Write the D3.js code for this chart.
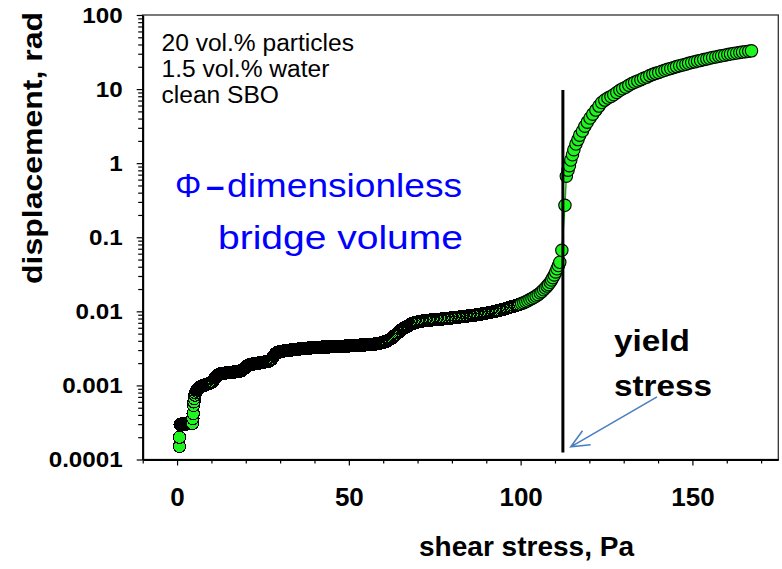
<!DOCTYPE html>
<html>
<head>
<meta charset="utf-8">
<script src="https://cdn.jsdelivr.net/npm/d3@7"></script>
<style>
  html, body { margin: 0; padding: 0; background: #fff; }
  svg { display: block; }
  text { font-family: Arial, "Liberation Sans", Helvetica, sans-serif; }
</style>
</head>
<body>
<svg id="chart" width="782" height="569"></svg>
<script>
// Creep test: shear stress ramp [Pa] vs. angular displacement [rad]
const initialCreep = [
  [0.7,1.50e-4],[0.7,2.00e-4],[0.9,2.97e-4],[1.1,3.00e-4],[1.3,3.00e-4],[1.5,3.00e-4],
  [1.7,3.00e-4],[1.9,3.00e-4],[2.1,3.00e-4],[2.3,3.00e-4],[2.5,3.00e-4],[2.7,3.02e-4],
  [2.9,3.03e-4],[3.1,3.05e-4],[3.3,3.05e-4],[3.5,3.07e-4],[3.7,3.08e-4],[3.9,3.10e-4],
  [4.1,3.10e-4],[4.3,3.10e-4],[4.5,3.06e-4],[4.6,3.58e-4],[4.7,4.18e-4],[4.8,5.37e-4],
  [4.9,6.00e-4],[5.0,6.68e-4],[5.2,7.40e-4],[5.4,7.95e-4],[5.6,8.40e-4],[5.8,8.70e-4],
  [6.0,8.95e-4],[6.2,9.15e-4],[6.4,9.30e-4],[6.6,9.45e-4],[6.8,9.60e-4],[7.0,9.72e-4],
  [7.2,9.82e-4],[7.4,9.90e-4],[7.6,9.97e-4],[7.8,1.00e-3],[8.0,1.01e-3],[8.2,1.02e-3],
  [8.4,1.03e-3],[8.6,1.035e-3],[8.8,1.04e-3],[9.0,1.05e-3],[9.2,1.06e-3],[9.4,1.07e-3],
  [9.6,1.08e-3],[9.8,1.09e-3],[10.0,1.10e-3]
];
const steppedCreep = [
  [10.2,1.11e-3],[10.4,1.14e-3],[10.6,1.18e-3],[10.8,1.22e-3],[11.0,1.26e-3],[11.2,1.29e-3],
  [11.4,1.32e-3],[11.6,1.35e-3],[11.8,1.37e-3],[12.0,1.39e-3],[12.2,1.41e-3],[12.4,1.42e-3],
  [12.6,1.43e-3],[12.8,1.44e-3],[13.0,1.45e-3],[13.2,1.45e-3],[13.4,1.45e-3],[13.6,1.46e-3],
  [13.8,1.46e-3],[14.0,1.47e-3],[14.2,1.47e-3],[14.4,1.48e-3],[14.6,1.48e-3],[14.8,1.48e-3],
  [15.0,1.49e-3],[15.2,1.49e-3],[15.4,1.49e-3],[15.6,1.50e-3],[15.8,1.50e-3],[16.0,1.50e-3],
  [16.2,1.51e-3],[16.4,1.51e-3],[16.6,1.52e-3],[16.8,1.52e-3],[17.0,1.52e-3],[17.2,1.53e-3],
  [17.4,1.53e-3],[17.6,1.54e-3],[17.8,1.54e-3],[18.0,1.55e-3],[18.2,1.55e-3],[18.4,1.56e-3],
  [18.6,1.58e-3],[18.8,1.59e-3],[19.0,1.61e-3],[19.2,1.64e-3],[19.4,1.67e-3],[19.6,1.70e-3],
  [19.8,1.74e-3],[20.0,1.78e-3],[20.2,1.81e-3],[20.4,1.84e-3],[20.6,1.86e-3],[20.8,1.88e-3],
  [21.0,1.90e-3],[21.2,1.91e-3],[21.4,1.92e-3],[21.6,1.93e-3],[21.8,1.94e-3],[22.0,1.94e-3],
  [22.2,1.95e-3],[22.4,1.96e-3],[22.6,1.96e-3],[22.8,1.97e-3],[23.0,1.98e-3],[23.2,1.99e-3],
  [23.4,1.99e-3],[23.6,2.00e-3],[23.8,2.01e-3],[24.0,2.01e-3],[24.2,2.02e-3],[24.4,2.03e-3],
  [24.6,2.04e-3],[24.8,2.04e-3],[25.0,2.05e-3],[25.2,2.06e-3],[25.4,2.07e-3],[25.6,2.08e-3],
  [25.8,2.08e-3],[26.0,2.09e-3],[26.2,2.10e-3],[26.4,2.11e-3],[26.6,2.13e-3],[26.8,2.14e-3],
  [27.0,2.17e-3],[27.2,2.20e-3],[27.4,2.24e-3],[27.6,2.29e-3],[27.8,2.35e-3],[28.0,2.43e-3],
  [28.2,2.51e-3],[28.4,2.59e-3],[28.6,2.66e-3],[28.8,2.72e-3],[29.0,2.76e-3],[29.2,2.78e-3],
  [29.4,2.80e-3],[29.6,2.82e-3],[29.8,2.84e-3],[30.0,2.86e-3]
];
const plateau = [
  [30.25,2.87e-3],[30.5,2.89e-3],[30.75,2.90e-3],[31.0,2.91e-3],[31.25,2.92e-3],[31.5,2.94e-3],
  [31.75,2.95e-3],[32.0,2.96e-3],[32.25,2.97e-3],[32.5,2.98e-3],[32.75,2.99e-3],[33.0,3.00e-3],
  [33.25,3.01e-3],[33.5,3.02e-3],[33.75,3.03e-3],[34.0,3.04e-3],[34.25,3.05e-3],[34.5,3.06e-3],
  [34.75,3.06e-3],[35.0,3.07e-3],[35.25,3.09e-3],[35.5,3.10e-3],[35.75,3.11e-3],[36.0,3.12e-3],
  [36.25,3.13e-3],[36.5,3.14e-3],[36.75,3.14e-3],[37.0,3.15e-3],[37.25,3.16e-3],[37.5,3.16e-3],
  [37.75,3.17e-3],[38.0,3.18e-3],[38.25,3.19e-3],[38.5,3.20e-3],[38.75,3.20e-3],[39.0,3.21e-3],
  [39.25,3.22e-3],[39.5,3.22e-3],[39.75,3.23e-3],[40.0,3.24e-3],[40.25,3.24e-3],[40.5,3.25e-3],
  [40.75,3.25e-3],[41.0,3.26e-3],[41.25,3.27e-3],[41.5,3.27e-3],[41.75,3.27e-3],[42.0,3.28e-3],
  [42.25,3.28e-3],[42.5,3.29e-3],[42.75,3.29e-3],[43.0,3.30e-3],[43.25,3.30e-3],[43.5,3.30e-3],
  [43.75,3.31e-3],[44.0,3.31e-3],[44.25,3.31e-3],[44.5,3.32e-3],[44.75,3.32e-3],[45.0,3.33e-3],
  [45.25,3.33e-3],[45.5,3.33e-3],[45.75,3.34e-3],[46.0,3.34e-3],[46.25,3.34e-3],[46.5,3.35e-3],
  [46.75,3.35e-3],[47.0,3.35e-3],[47.25,3.36e-3],[47.5,3.36e-3],[47.75,3.36e-3],[48.0,3.37e-3],
  [48.25,3.37e-3],[48.5,3.38e-3],[48.75,3.38e-3],[49.0,3.39e-3],[49.25,3.40e-3],[49.5,3.40e-3],
  [49.75,3.41e-3],[50.0,3.41e-3],[50.25,3.42e-3],[50.5,3.43e-3],[50.75,3.43e-3],[51.0,3.44e-3],
  [51.25,3.45e-3],[51.5,3.45e-3],[51.75,3.46e-3],[52.0,3.47e-3],[52.25,3.47e-3],[52.5,3.48e-3],
  [52.75,3.48e-3],[53.0,3.49e-3],[53.25,3.50e-3],[53.5,3.50e-3],[53.75,3.51e-3],[54.0,3.52e-3],
  [54.25,3.52e-3],[54.5,3.53e-3],[54.75,3.53e-3],[55.0,3.54e-3],[55.25,3.55e-3],[55.5,3.55e-3],
  [55.75,3.56e-3],[56.0,3.57e-3],[56.25,3.57e-3],[56.5,3.58e-3],[56.75,3.58e-3],[57.0,3.59e-3],
  [57.25,3.60e-3],[57.5,3.62e-3],[57.75,3.63e-3],[58.0,3.64e-3],[58.25,3.66e-3],[58.5,3.67e-3],
  [58.75,3.69e-3],[59.0,3.71e-3],[59.25,3.73e-3],[59.5,3.75e-3],[59.75,3.78e-3],[60.0,3.81e-3]
];
const secondRise = [
  [60.3,3.85e-3],[60.6,3.90e-3],[60.9,3.95e-3],[61.2,4.01e-3],[61.5,4.08e-3],[61.8,4.15e-3],
  [62.1,4.22e-3],[62.4,4.32e-3],[62.7,4.42e-3],[63.0,4.54e-3],[63.3,4.68e-3],[63.6,4.82e-3],
  [63.9,4.96e-3],[64.2,5.11e-3],[64.5,5.25e-3],[64.8,5.39e-3],[65.1,5.54e-3],[65.4,5.67e-3],
  [65.7,5.80e-3],[66.0,5.92e-3],[66.3,6.03e-3],[66.6,6.14e-3],[66.9,6.25e-3],[67.2,6.36e-3],
  [67.5,6.48e-3],[67.8,6.59e-3],[68.1,6.70e-3],[68.4,6.80e-3],[68.7,6.89e-3],[69.0,6.97e-3],
  [69.3,7.05e-3],[69.6,7.13e-3],[69.9,7.19e-3],[70.2,7.24e-3]
];
const slowCreep = [
  [70.6,7.30e-3],[71.0,7.36e-3],[71.4,7.41e-3],[71.8,7.45e-3],[72.2,7.49e-3],[72.6,7.53e-3],
  [73.0,7.56e-3],[73.4,7.60e-3],[73.8,7.63e-3],[74.2,7.66e-3],[74.6,7.70e-3],[75.0,7.73e-3],
  [75.4,7.75e-3],[75.8,7.78e-3],[76.2,7.81e-3],[76.6,7.84e-3],[77.0,7.88e-3],[77.4,7.91e-3],
  [77.8,7.94e-3],[78.2,7.97e-3],[78.6,8.01e-3],[79.0,8.05e-3],[79.4,8.09e-3],[79.8,8.13e-3],
  [80.2,8.17e-3],[80.6,8.21e-3],[81.0,8.25e-3],[81.4,8.29e-3],[81.8,8.33e-3],[82.2,8.38e-3],
  [82.6,8.43e-3],[83.0,8.48e-3],[83.4,8.52e-3],[83.8,8.57e-3],[84.2,8.62e-3],[84.6,8.66e-3],
  [85.0,8.70e-3],[85.4,8.74e-3],[85.8,8.78e-3],[86.2,8.84e-3],[86.6,8.89e-3],[87.0,8.94e-3],
  [87.4,9.00e-3],[87.8,9.05e-3],[88.2,9.12e-3],[88.6,9.19e-3],[89.0,9.26e-3],[89.4,9.34e-3],
  [89.8,9.41e-3],[90.2,9.49e-3],[90.6,9.57e-3],[91.0,9.65e-3],[91.4,9.73e-3],[91.8,9.82e-3],
  [92.2,9.92e-3],[92.6,1.003e-2],[93.0,1.01e-2],[93.4,1.02e-2],[93.8,1.03e-2],[94.2,1.04e-2],
  [94.6,1.06e-2],[95.0,1.07e-2],[95.4,1.08e-2],[95.8,1.10e-2],[96.2,1.11e-2],[96.6,1.12e-2],
  [97.0,1.14e-2],[97.4,1.15e-2],[97.8,1.16e-2],[98.2,1.18e-2],[98.6,1.20e-2],[99.0,1.21e-2],
  [99.4,1.23e-2],[99.8,1.25e-2]
];
const yieldApproach = [
  [100.3,1.28e-2],[100.9,1.31e-2],[101.5,1.35e-2],[102.1,1.39e-2],[102.7,1.44e-2],[103.3,1.49e-2],
  [103.9,1.55e-2],[104.5,1.61e-2],[105.1,1.68e-2],[105.7,1.77e-2],[106.2,1.85e-2],[106.7,1.95e-2],
  [107.2,2.06e-2],[107.7,2.19e-2],[108.1,2.30e-2],[108.6,2.47e-2],[109.0,2.65e-2],[109.4,2.85e-2],
  [109.8,3.10e-2],[110.2,3.40e-2],[110.6,3.75e-2],[111.0,4.15e-2],[111.4,4.60e-2],[112.0,6.67e-2],
  [112.9,0.270]
];
const flow = [
  [113.3,0.667],[113.8,0.804],[114.2,0.925],[114.6,1.10],[115.1,1.30],[115.5,1.52],
  [116.1,1.81],[116.7,2.08],[117.2,2.39],[118.0,2.71],[118.7,3.16],[119.4,3.58],
  [120.2,4.06],[121.0,4.59],[121.9,5.20],[122.8,5.89],[123.6,6.57],[124.5,7.10],
  [125.4,7.56],[126.3,7.97],[127.1,8.40],[128.0,9.02],[128.9,9.63],[129.7,10.1],
  [130.6,10.6],[131.5,11.3],[132.4,11.9],[133.2,12.4],[134.1,12.9],[135.0,13.4],
  [135.8,14.0],[136.7,14.5],[137.6,15.2],[138.5,15.8],[139.3,16.3],[140.2,16.8],
  [141.1,17.4],[142.0,17.9],[142.8,18.5],[143.7,19.0],[144.6,19.5],[145.4,20.1],
  [146.3,20.7],[147.2,21.2],[148.1,21.7],[148.9,22.3],[149.8,22.8],[150.7,23.3],
  [151.5,23.9],[152.4,24.4],[153.3,25.0],[154.2,25.5],[155.0,26.1],[155.9,26.7],
  [156.8,27.2],[157.7,27.7],[158.5,28.2],[159.4,28.7],[160.3,29.3],[161.1,29.7],
  [162.0,30.2],[162.9,30.7],[163.8,31.1],[164.6,31.6],[165.5,32.0],[166.4,32.4],
  [167.2,32.8]
];

const xTickValues = [0, 50, 100, 150];
const xTickLabels = ["0", "50", "100", "150"];
const xMinorTicks = [-10, 10, 20, 30, 40, 60, 70, 80, 90, 110, 120, 130, 140, 160, 170];
const yTickValues = [1e-4, 1e-3, 1e-2, 1e-1, 1, 10, 100];
const yTickLabels = ["0.0001", "0.001", "0.01", "0.1", "1", "10", "100"];
const noteLines = ["20 vol.% particles", "1.5 vol.% water", "clean SBO"];
const phiLines = ["dimensionless", "bridge volume"];
const yieldLabel = ["yield", "stress"];
const yieldStressPa = 112.3;
const yieldLineSpan = [1.24e-4, 9.7];
const arrowFrom = [139.7, 7.0e-4];
const arrowTo = [114.6, 1.48e-4];

// densely sampled creep region vs. sparser branch around and after yield
const creepPoints = [].concat(initialCreep, steppedCreep, plateau, secondRise, slowCreep);
const yieldPoints = [].concat(yieldApproach, flow);
const points = creepPoints.concat(yieldPoints);

const W = 782, H = 569;
const margin = { top: 15, right: 3.7, bottom: 109.5, left: 142.7 };
const svg = d3.select("#chart");

const x = d3.scaleLinear().domain([-10, 175]).range([margin.left, W - margin.right]);
const y = d3.scaleLog().domain([1e-4, 100]).range([H - margin.bottom, margin.top]);

// widen a text element to a given length, or by a factor of its natural width
function stretchTo(sel, len) {
  sel.attr("textLength", len).attr("lengthAdjust", "spacingAndGlyphs");
}
function stretchBy(sel, k) {
  sel.each(function () {
    const w = this.getComputedTextLength();
    d3.select(this).attr("textLength", w * k).attr("lengthAdjust", "spacingAndGlyphs");
  });
}

// plot frame (top / right edges)
svg.append("rect")
  .attr("x", x(-10)).attr("y", y(100))
  .attr("width", x(175) - x(-10)).attr("height", y(1e-4) - y(100))
  .attr("fill", "none").attr("stroke", "#333").attr("stroke-width", 1.3);

// minor ticks on the log axis
const yMinor = y.ticks().filter(v => !yTickValues.some(t => Math.abs(t - v) / t < 1e-6));
const yMinorAxis = svg.append("g").attr("transform", `translate(${x(-10)},0)`)
  .call(d3.axisLeft(y).tickValues(yMinor).tickSize(4.5).tickFormat(""));
yMinorAxis.select(".domain").remove();

const yAxis = svg.append("g").attr("transform", `translate(${x(-10)},0)`)
  .call(d3.axisLeft(y).tickValues(yTickValues).tickSize(6).tickSizeOuter(0)
    .tickPadding(14).tickFormat((d, i) => yTickLabels[i]));
yAxis.selectAll("text")
  .attr("font-size", 22).attr("font-weight", "bold").attr("fill", "#000")
  .attr("font-family", "Arial, 'Liberation Sans', sans-serif")
  .call(stretchBy, 1.1);

const xMinorAxis = svg.append("g").attr("transform", `translate(0,${y(1e-4)})`)
  .call(d3.axisBottom(x).tickValues(xMinorTicks).tickSize(4).tickFormat(""));
xMinorAxis.select(".domain").remove();

const xAxis = svg.append("g").attr("transform", `translate(0,${y(1e-4)})`)
  .call(d3.axisBottom(x).tickValues(xTickValues).tickSize(6).tickSizeOuter(0)
    .tickFormat((d, i) => xTickLabels[i]));
xAxis.selectAll("text")
  .attr("y", 46.5).attr("dy", 0)
  .attr("font-size", 26).attr("font-weight", "bold").attr("fill", "#000")
  .attr("font-family", "Arial, 'Liberation Sans', sans-serif");

svg.selectAll(".tick line").attr("stroke", "#000").attr("stroke-width", 1.2);
yAxis.select(".domain").attr("stroke", "#000").attr("stroke-width", 2);
xAxis.select(".domain").attr("stroke", "#000").attr("stroke-width", 2);

// axis titles
svg.append("text")
  .attr("x", 526.5).attr("y", 556).attr("text-anchor", "middle")
  .attr("font-size", 27).attr("font-weight", "bold").text("shear stress, Pa")
  .call(stretchTo, 215);
svg.append("text")
  .attr("transform", "translate(42,148) rotate(-90)").attr("text-anchor", "middle")
  .attr("font-size", 28).attr("font-weight", "bold").text("displacement, rad")
  .call(stretchTo, 272);

// data: connecting line then markers
svg.append("path")
  .datum(points)
  .attr("fill", "none").attr("stroke", "#18a818").attr("stroke-width", 1.5)
  .attr("d", d3.line().x(d => x(d[0])).y(d => y(d[1])));

const markers = svg.append("g");
markers.selectAll("circle.creep")
  .data(creepPoints).join("circle").attr("class", "creep")
  .attr("cx", d => x(d[0])).attr("cy", d => y(d[1])).attr("r", 6.2)
  .attr("fill", "#1ef51e").attr("stroke", "#000").attr("stroke-width", 1.1)
  .attr("shape-rendering", "crispEdges");
markers.selectAll("circle.flow")
  .data(yieldPoints).join("circle").attr("class", "flow")
  .attr("cx", d => x(d[0])).attr("cy", d => y(d[1])).attr("r", 6.2)
  .attr("fill", "#1ef51e").attr("stroke", "#000").attr("stroke-width", 1.1);

// yield stress marker
svg.append("line")
  .attr("x1", x(yieldStressPa)).attr("x2", x(yieldStressPa))
  .attr("y1", y(yieldLineSpan[0])).attr("y2", y(yieldLineSpan[1]))
  .attr("stroke", "#000").attr("stroke-width", 3);

// sample description
svg.append("g").selectAll("text")
  .data(noteLines).join("text")
  .attr("x", 161.5).attr("y", (d, i) => 50.5 + i * 26.3)
  .attr("font-size", 23.5).attr("fill", "#000").text(d => d)
  .call(stretchBy, 1.045);

// blue annotation
svg.append("text").attr("x", 175).attr("y", 197)
  .attr("font-size", 33).attr("fill", "#0000ff").text("Φ");
svg.append("text").attr("x", 206).attr("y", 197)
  .attr("font-size", 33).attr("font-weight", "bold").attr("fill", "#0000ff").text("–");
svg.append("text").attr("x", 227).attr("y", 197)
  .attr("font-size", 33).attr("fill", "#0000ff").text(phiLines[0])
  .call(stretchTo, 235);
svg.append("text").attr("x", 218).attr("y", 249)
  .attr("font-size", 33).attr("fill", "#0000ff").text(phiLines[1])
  .call(stretchTo, 245);

// yield stress label and arrow
const yieldWidths = [76, 98];
svg.append("g").selectAll("text")
  .data(yieldLabel).join("text")
  .attr("x", 614).attr("y", (d, i) => 351 + i * 45)
  .attr("font-size", 29).attr("font-weight", "bold").attr("fill", "#000").text(d => d)
  .attr("textLength", (d, i) => yieldWidths[i]).attr("lengthAdjust", "spacingAndGlyphs");

const ax0 = x(arrowFrom[0]), ay0 = y(arrowFrom[1]);
const ax1 = x(arrowTo[0]), ay1 = y(arrowTo[1]);
const ang = Math.atan2(ay1 - ay0, ax1 - ax0);
const head = 20, spread = 0.42;
svg.append("path")
  .attr("fill", "none").attr("stroke", "#4a7ebf").attr("stroke-width", 1.6)
  .attr("d", `M${ax0},${ay0}L${ax1},${ay1}` +
    `M${ax1 - head * Math.cos(ang - spread)},${ay1 - head * Math.sin(ang - spread)}L${ax1},${ay1}` +
    `L${ax1 - head * Math.cos(ang + spread)},${ay1 - head * Math.sin(ang + spread)}`);
</script>
</body>
</html>
